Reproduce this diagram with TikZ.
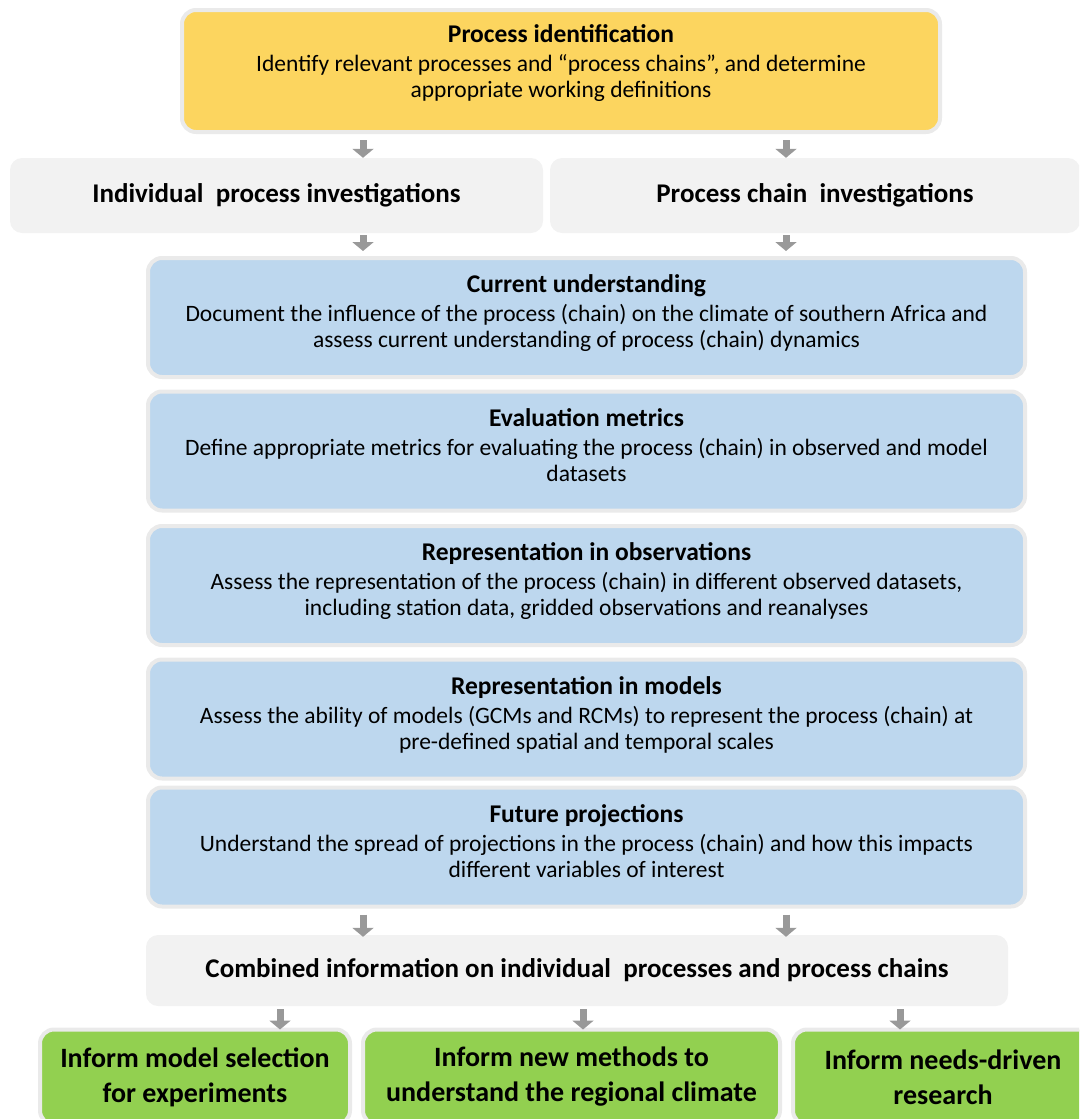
\documentclass[tikz,border=0pt]{standalone}
\usepackage{fontspec}
\setmainfont{Carlito}
\usetikzlibrary{arrows.meta}

\definecolor{identyellow}{HTML}{FCD55F}
\definecolor{stepblue}{HTML}{BDD7EE}
\definecolor{outgreen}{HTML}{92D050}
\definecolor{pathgray}{HTML}{F2F2F2}
\definecolor{rimgray}{HTML}{EAEAEA}
\definecolor{arrowgray}{HTML}{999999}

\newcommand{\boxtitle}[1]{{\fontsize{25.5}{26}\selectfont\bfseries #1}\\[3pt]}
\newcommand{\boxbody}{\fontsize{23.5}{26}\selectfont}

\tikzset{
  card/.style={rounded corners=14pt, draw=rimgray, line width=4pt, align=center, inner sep=0pt},
  bar/.style={rounded corners=12pt, fill=pathgray, align=center, inner sep=0pt,
    font=\fontsize{27}{30}\selectfont\bfseries},
  flowarrow/.style={draw=arrowgray, line width=7pt, -{Triangle[width=21pt,length=9pt]}}
}

\begin{document}
\begin{tikzpicture}[x=1pt,y=-1pt]
   \useasboundingbox (0,0) rectangle (1079,1119);
   \clip (0,0) rectangle (1079,1119);
   % arrow columns
   \coordinate (colA) at (363,0);
   \coordinate (colB) at (786,0);
   \coordinate (colC) at (280,0);
   \coordinate (colD) at (583,0);
   \coordinate (colE) at (900,0);
   \begin{scope}[every node/.style={card, fill=stepblue, font=\boxbody, text depth=12pt,
       minimum width=877pt, minimum height=119pt}]
    \node (ident) at (561,71) [fill=identyellow, text depth=20pt, minimum width=758pt, minimum height=122pt]
      {\boxtitle{Process identification}Identify relevant processes and “process chains”, and determine\\ appropriate working definitions};
    \node (current) at (586.5,317.5)
      {\boxtitle{Current understanding}Document the influence of the process (chain) on the climate of southern Africa and\\ assess current understanding of process (chain) dynamics};
    \node (metrics) at (586.5,451)
      {\boxtitle{Evaluation metrics}Define appropriate metrics for evaluating the process (chain) in observed and model\\ datasets};
    \node (obs) at (586.5,585.5)
      {\boxtitle{Representation in observations}Assess the representation of the process (chain) in different observed datasets,\\ including station data, gridded observations and reanalyses};
    \node (models) at (586.5,719)
      {\boxtitle{Representation in models}Assess the ability of models (GCMs and RCMs) to represent the process (chain) at\\ pre-defined spatial and temporal scales};
    \node (future) at (586.5,847)
      {\boxtitle{Future projections}Understand the spread of projections in the process (chain) and how this impacts\\ different variables of interest};
   \end{scope}
   \begin{scope}[every node/.style={bar}]
    \node (indiv) at (276.5,195.5) [minimum width=533pt, minimum height=75pt] {Individual\ \ process investigations};
    \node (chain) at (815,195.5) [minimum width=530pt, minimum height=75pt] {Process chain\ \ investigations};
    \node (combined) at (577,970.5) [minimum width=862pt, minimum height=71pt] {Combined information on individual\ \ processes and process chains};
   \end{scope}
   \begin{scope}[every node/.style={card, fill=outgreen, minimum height=95pt,
       font=\fontsize{28}{35}\selectfont\bfseries}]
    \node (select) at (195,1077) [minimum width=310pt] {Inform model selection\\ for experiments};
    \node (methods) at (571.5,1077) [minimum width=417pt] {Inform new methods to\\ understand the regional climate};
    \node (needs) at (943,1077) [minimum width=300pt] {Inform needs-driven\\ research};
   \end{scope}
   \begin{scope}[every path/.style={flowarrow}]
    \draw (ident.south -| colA) ++(0,6) -- (indiv.north -| colA);
    \draw (ident.south -| colB) ++(0,6) -- (chain.north -| colB);
    \draw (indiv.south -| colA) ++(0,2) -- ([yshift=5pt]current.north -| colA);
    \draw (chain.south -| colB) ++(0,2) -- ([yshift=5pt]current.north -| colB);
    \draw (future.south -| colA) ++(0,6) -- ([yshift=-2pt]combined.north -| colA);
    \draw (future.south -| colB) ++(0,6) -- ([yshift=-2pt]combined.north -| colB);
    \draw (combined.south -| colC) ++(0,3) -- ([yshift=-2pt]select.north -| colC);
    \draw (combined.south -| colD) ++(0,3) -- ([yshift=-2pt]methods.north -| colD);
    \draw (combined.south -| colE) ++(0,3) -- ([yshift=-2pt]needs.north -| colE);
   \end{scope}
\end{tikzpicture}
\end{document}
